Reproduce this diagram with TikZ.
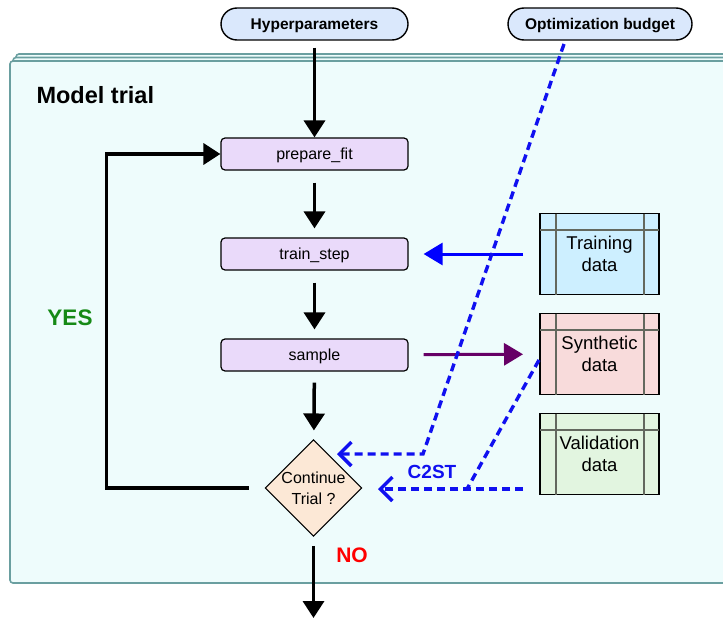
\documentclass[tikz,border=0pt]{standalone}
\usepackage{fontspec}
\setmainfont{Liberation Sans}
\usetikzlibrary{calc,arrows.meta,shapes.geometric}

\definecolor{pillblue}{HTML}{DAE8FC}
\definecolor{procviolet}{HTML}{EADAFA}
\definecolor{decpeach}{HTML}{FCE8D6}
\definecolor{trainblue}{HTML}{CDEFFF}
\definecolor{synthpink}{HTML}{F8DBDB}
\definecolor{validgreen}{HTML}{E2F5E0}
\definecolor{trialfill}{HTML}{EEFCFC}
\definecolor{trialedge}{HTML}{6A9FA0}
\definecolor{storegray}{HTML}{63685E}
\definecolor{yesgreen}{HTML}{168A16}
\definecolor{c2stblue}{HTML}{1010F0}

\newcommand{\setfs}[2]{\fontsize{#1}{#2}\selectfont}
\newcommand{\drawstorelines}[1] {
  \draw[storeline] ($(#1.north west)+(16,0)$) -- ($(#1.south west)+(16,0)$);
  \draw[storeline] ($(#1.north east)+(-15,0)$) -- ($(#1.south east)+(-15,0)$);
  \draw[storeline] ($(#1.north west)+(0,16)$) -- ($(#1.north east)+(0,16)$); % header row
}

\begin{document}
\begin{tikzpicture}[x=1pt, y=-1pt,
    pill/.style={draw, line width=1.4pt, fill=pillblue, rounded corners=16pt,
      minimum width=187pt, minimum height=32pt, text height=12pt, text depth=1pt,
      font=\setfs{15.5}{18}\bfseries},
    procbox/.style={draw, line width=1.2pt, fill=procviolet, rounded corners=4pt,
      minimum width=187pt, minimum height=32pt, text height=12pt, text depth=1.5pt,
      font=\setfs{16}{18}},
    decision/.style={diamond, draw, line width=1pt, fill=decpeach, aspect=1,
      minimum width=96pt, minimum height=96pt, inner sep=0pt, align=center,
      font=\setfs{16}{21}},
    storebox/.style={draw, line width=1.3pt, minimum width=119pt, minimum height=81pt,
      outer sep=0pt, align=center, font=\setfs{18.5}{22}},
    storeline/.style={storegray, line width=2pt},
    flow/.style={line width=3.5pt, -{Triangle[length=17pt,width=21pt]}},
    feed/.style={line width=3pt, -{Triangle[length=19pt,width=22pt]}},
    dashblue/.style={c2stblue, line width=3.4pt, dash pattern=on 8pt off 5pt},
    backtip/.style={-{Straight Barb[length=12pt,width=24pt]}},
  ]
  \clip (0,0) rectangle (723,618);

  % stacked trial pages
  \foreach \d in {2,1,0} {
    \draw[trialedge, line width=1.6pt, fill=trialfill, rounded corners=3pt]
      (10+3*\d, 61-3.5*\d) rectangle (740, 583-3.5*\d);
  }

  \node[pill] (hyper) at (314.5,24) {Hyperparameters};
  \node[pill, minimum width=184pt] (budget) at (600,24) {Optimization budget};
  \node[anchor=west, font=\setfs{23.5}{26}\bfseries] (title) at (33,95) {Model trial};

  \node[procbox] (prep) at (314.5,154) {prepare\_fit};
  \node[procbox] (train) at (314.5,254) {train\_step};
  \node[procbox] (sample) at (314.5,355) {sample};
  \node[decision] (cont) at (313.5,488) {Continue\\Trial ?};

  \node[storebox, fill=trainblue] (trdata) at (599.5,254) {Training\\data};
  \node[storebox, fill=synthpink] (sydata) at (599.5,354) {Synthetic\\data};
  \node[storebox, fill=validgreen] (vadata) at (599.5,454) {Validation\\data};
  \foreach \s in {trdata,sydata,vadata} {
    \drawstorelines{\s}
  }

  \coordinate (exit) at (313.5,618);
  \draw[flow, shorten <=7pt] (hyper.south -| prep) -- (prep);
  \draw[flow, shorten <=12pt, shorten >=9pt] (prep) -- (train);
  \draw[flow, shorten <=12pt, shorten >=9pt] (train) -- (sample);
  \draw[flow, shorten <=11pt, shorten >=9pt] (sample) -- (cont);
  \draw[flow, shorten <=9pt] (cont) -- (exit);
  \draw[flow] ([xshift=-16pt]cont.west) -- ++(-142,0) |- (prep.west);

  \draw[feed, blue, shorten <=17pt, shorten >=15pt] (trdata) -- (train);
  \draw[feed, violet!80!black, shorten <=15pt, shorten >=17pt] (sample) -- (sydata);

  % budget and C2ST feedback
  \coordinate (bgstart) at (564,44);
  \coordinate (bgbend) at (423,454);
  \coordinate (bgtip) at (337,454);
  \draw[dashblue, backtip] (bgstart) -- (bgbend) -- (bgtip);
  \coordinate (syout) at (539,360);
  \coordinate (c2bend) at (467,489);
  \coordinate (vaout) at (523,489);
  \coordinate (c2tip) at (378,489);
  \draw[dashblue] (syout) -- (c2bend);
  \draw[dashblue, backtip] (vaout) -- (c2tip);

  \node[font=\setfs{19}{22}\bfseries, text=c2stblue] (c2st) at (432,472) {C2ST};
  \node[font=\setfs{22.5}{26}\bfseries, text=yesgreen] (yes) at (70,318) {YES};
  \node[font=\setfs{21}{24}\bfseries, text=red] (no) at (352,555) {NO};
\end{tikzpicture}
\end{document}
